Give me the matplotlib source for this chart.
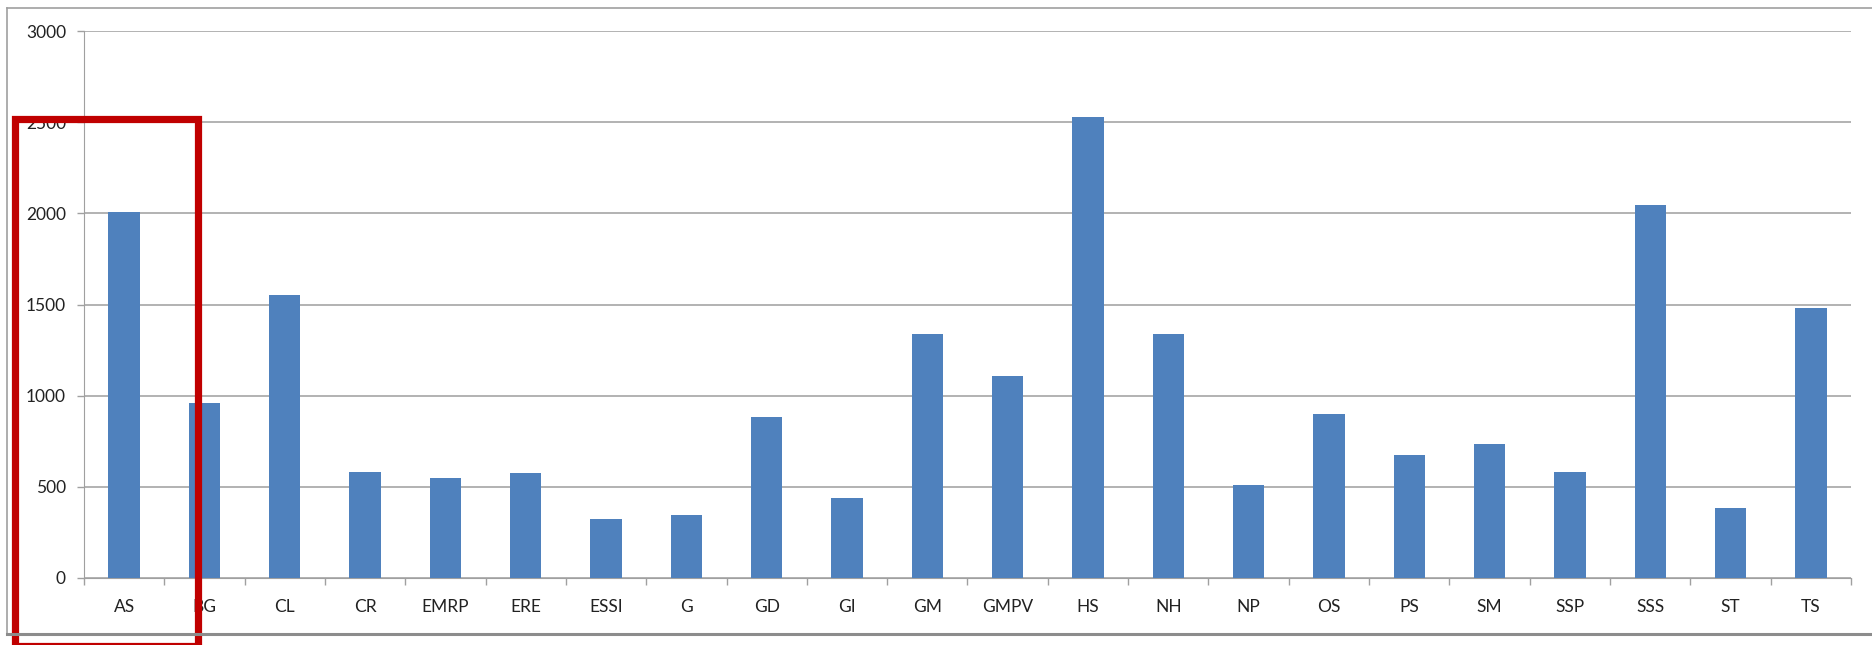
import matplotlib.pyplot as plt
from matplotlib.patches import Rectangle
from matplotlib.lines import Line2D
import numpy as np

categories = ["AS", "BG", "CL", "CR", "EMRP", "ERE", "ESSI", "G", "GD", "GI", "GM",
              "GMPV", "HS", "NH", "NP", "OS", "PS", "SM", "SSP", "SSS", "ST", "TS"]
values = [2010, 960, 1550, 583, 550, 576, 321, 347, 884, 439, 1336,
          1107, 2528, 1336, 511, 897, 675, 734, 583, 2044, 386, 1480]

W, H = 1872, 645
fig = plt.figure(figsize=(W / 100, H / 100), dpi=100)
ax = fig.add_axes([84 / W, 1 - 578 / H, (1851 - 84) / W, (578 - 31) / H])

x = np.arange(len(categories))
ax.bar(x, values, width=0.39, color="#4f81bd", zorder=3)

ax.set_xlim(-0.5, len(categories) - 0.5)
ax.set_ylim(0, 3000)
ax.set_yticks(np.arange(0, 3001, 500))
ax.set_xticks(x)
ax.set_xticklabels(categories)
ax.set_xticks(np.arange(-0.5, len(categories), 1), minor=True)
ax.tick_params(axis="x", which="major", length=0, pad=15, labelsize=12.5, colors="#222222")
ax.tick_params(axis="x", which="minor", length=5, width=1, color="#a0a0a0")
ax.tick_params(axis="y", length=5, width=1, color="#a0a0a0", labelsize=12.5, labelcolor="#222222", pad=8)
for lab in ax.get_xticklabels() + ax.get_yticklabels():
    lab.set_family(["Lato", "DejaVu Sans"])

ax.grid(axis="y", color="#a6a6a6", linewidth=1.2, zorder=0)
for side in ["top", "right"]:
    ax.spines[side].set_visible(False)
ax.spines["left"].set_color("#a0a0a0")
ax.spines["bottom"].set_color("#a0a0a0")

# outer chart frame
fig.add_artist(Line2D([7 / W, 1], [1 - 8 / H, 1 - 8 / H], transform=fig.transFigure, color="#a0a0a0", lw=1.2))
fig.add_artist(Line2D([7 / W, 7 / W], [1 - 8 / H, 1 - 634 / H], transform=fig.transFigure, color="#a0a0a0", lw=1.2))
fig.add_artist(Line2D([7 / W, 1], [1 - 634 / H, 1 - 634 / H], transform=fig.transFigure, color="#8c8c8c", lw=2.2))

# red highlight box
fig.add_artist(Rectangle((15 / W, 1 - 646 / H), (198 - 15) / W, (646 - 119) / H,
                         transform=fig.transFigure, fill=False, edgecolor="#c00000", lw=5.2))

fig.savefig("out.png", dpi=100)
